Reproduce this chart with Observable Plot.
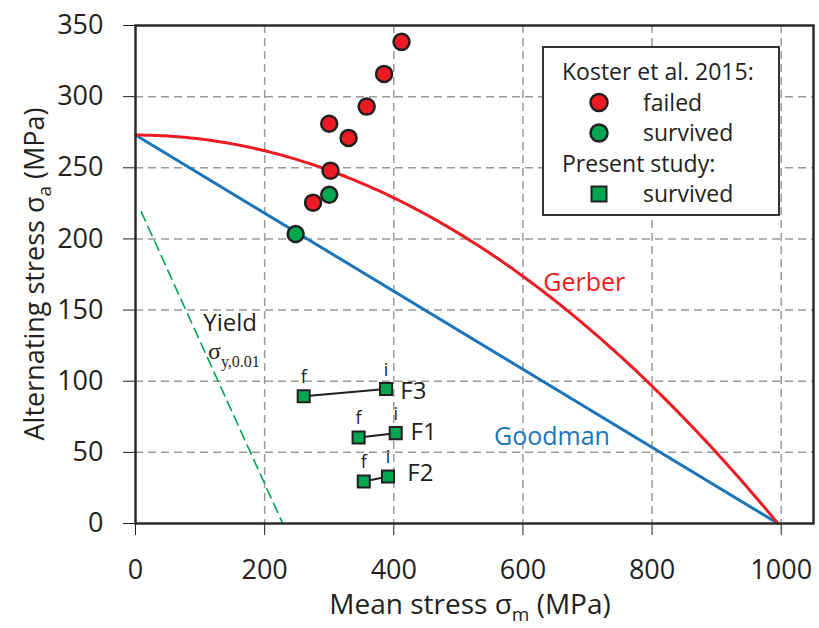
<!DOCTYPE html>
<html>
<head>
<meta charset="utf-8">
<script src="https://cdn.jsdelivr.net/npm/d3@7"></script>
<script src="https://cdn.jsdelivr.net/npm/@observablehq/plot@0.6"></script>
<style>
  body { margin: 0; background: #fff; }
  #chart svg { display: block; }
</style>
</head>
<body>
<div id="chart"></div>
<script>
// Koster et al. 2015 specimens (mean stress, alternating stress in MPa)
const kosterFailedMean = [412, 385, 358, 300, 330, 302, 275];
const kosterFailedAlt  = [338.5, 316, 293, 281, 271, 248, 225.5];
const kosterSurvivedMean = [300, 248];
const kosterSurvivedAlt  = [231, 203.5];

// Present study: initial (i) and final (f) state of each specimen
const specimenNames = ["F3", "F1", "F2"];
const initialMean = [388, 403, 391];
const initialAlt  = [94.5, 63.5, 33];
const finalMean   = [260.5, 345.5, 353.5];
const finalAlt    = [89.5, 60.5, 29.5];
const nameMean    = [410, 426, 421];
const nameAlt     = [92.8, 64, 35];

// Material constants (MPa)
const enduranceLimit = 273;
const ultimateStrength = 995;
const yieldStrength = 228;
const yieldLineStart = 9;

const xTicks = [0, 200, 400, 600, 800, 1000];
const yTicks = [0, 50, 100, 150, 200, 250, 300, 350];

const RED = "#ED1C24", GREEN = "#00A650", BLUE = "#1B75BC", INK = "#231F20";
const FONT = "'Open Sans', 'Noto Sans', sans-serif";

// Tables built from the arrays above
const failed = kosterFailedMean.map((m, i) => ({m, a: kosterFailedAlt[i]}));
const survived = kosterSurvivedMean.map((m, i) => ({m, a: kosterSurvivedAlt[i]}));
const specimens = specimenNames.map((name, i) => ({
  name, im: initialMean[i], ia: initialAlt[i], fm: finalMean[i], fa: finalAlt[i],
  nm: nameMean[i], na: nameAlt[i]
}));
const squares = specimens.flatMap(d => [
  {m: d.fm, a: d.fa, tag: "f"},
  {m: d.im, a: d.ia, tag: "i"}
]);

// Mean-stress correction criteria
const gerber = d3.range(0, ultimateStrength, 5).concat([ultimateStrength])
  .map(m => ({m, a: enduranceLimit * (1 - (m / ultimateStrength) ** 2)}));
const goodman = [0, ultimateStrength]
  .map(m => ({m, a: enduranceLimit * (1 - m / ultimateStrength)}));
const yieldLine = [yieldLineStart, yieldStrength]
  .map(m => ({m, a: yieldStrength - m}));

const chart = Plot.plot({
  width: 819,
  height: 628,
  marginLeft: 135,
  marginRight: 6,
  marginTop: 25,
  marginBottom: 105,
  style: {fontFamily: FONT, color: INK, background: "#fff"},
  x: {domain: [0, 1050]},
  y: {domain: [0, 350]},
  marks: [
    Plot.ruleX(xTicks.slice(1), {stroke: "#9a9a9a", strokeWidth: 1.5, strokeDasharray: "8,5"}),
    Plot.ruleY(yTicks.slice(1, -1), {stroke: "#9a9a9a", strokeWidth: 1.5, strokeDasharray: "8,5"}),
    Plot.line(yieldLine, {x: "m", y: "a", stroke: GREEN, strokeWidth: 1.6, strokeDasharray: "10,6"}),
    Plot.line(goodman, {x: "m", y: "a", stroke: BLUE, strokeWidth: 3}),
    Plot.line(gerber, {x: "m", y: "a", stroke: RED, strokeWidth: 3}),
    Plot.link(specimens, {x1: "fm", y1: "fa", x2: "im", y2: "ia", stroke: INK, strokeWidth: 2}),
    Plot.dot(squares, {x: "m", y: "a", symbol: "square", r: 6.8, fill: GREEN, stroke: INK, strokeWidth: 2}),
    Plot.text(squares, {x: "m", y: "a", text: "tag", dy: -19, fontSize: 18, fill: INK}),
    Plot.text(specimens, {x: "nm", y: "na", text: "name", textAnchor: "start", fontSize: 24, fill: INK}),
    Plot.dot(failed, {x: "m", y: "a", r: 8, fill: RED, stroke: INK, strokeWidth: 2.5}),
    Plot.dot(survived, {x: "m", y: "a", r: 8, fill: GREEN, stroke: INK, strokeWidth: 2.5}),
    Plot.text(["Gerber"], {x: 695, y: 169, text: d => d, fontSize: 25, fill: RED}),
    Plot.text(["Goodman"], {x: 645, y: 61, text: d => d, fontSize: 25, fill: BLUE}),
    Plot.text(["Yield"], {x: 105, y: 141, text: d => d, textAnchor: "start", fontSize: 24, fill: INK}),
    Plot.axisX({ticks: xTicks, tickFormat: d => String(d), tickSize: 12, tickPadding: 24, fontSize: 27, label: null, stroke: INK}),
    Plot.axisY({ticks: yTicks, tickFormat: d => String(d), tickSize: 12, tickPadding: 20, fontSize: 27, label: null, stroke: INK}),
    Plot.frame({stroke: "#2b2b2b", strokeWidth: 2.5})
  ]
});

const svg = d3.select(chart);
const sx = chart.scale("x"), sy = chart.scale("y");

// Yield strength symbol sigma_{y,0.01}
const sig = svg.append("text")
  .attr("x", sx.apply(113)).attr("y", sy.apply(115))
  .attr("text-anchor", "start")
  .attr("font-family", "'Liberation Serif', 'DejaVu Serif', serif")
  .attr("font-size", 24).attr("fill", INK);
sig.append("tspan").text("σ");
sig.append("tspan").attr("dy", 8).attr("font-size", 16).text("y,0.01");

// Axis titles with subscripts
const xt = svg.append("text")
  .attr("x", (135 + 813) / 2 - 4).attr("y", 614)
  .attr("text-anchor", "middle").attr("font-family", FONT)
  .attr("font-size", 28).attr("fill", INK);
xt.append("tspan").text("Mean stress σ");
xt.append("tspan").attr("dy", 7).attr("font-size", 19).text("m");
xt.append("tspan").attr("dy", -7).text(" (MPa)");

const yt = svg.append("text")
  .attr("transform", `translate(44,${(25 + 523) / 2}) rotate(-90)`)
  .attr("text-anchor", "middle").attr("font-family", FONT)
  .attr("font-size", 27).attr("fill", INK);
yt.append("tspan").text("Alternating stress σ");
yt.append("tspan").attr("dy", 7).attr("font-size", 19).text("a");
yt.append("tspan").attr("dy", -7).text(" (MPa)");

// Legend box
const legendRows = [
  {label: "Koster et al. 2015:", symbol: null},
  {label: "failed", symbol: "circle", fill: RED},
  {label: "survived", symbol: "circle", fill: GREEN},
  {label: "Present study:", symbol: null},
  {label: "survived", symbol: "square", fill: GREEN}
];
const lg = svg.append("g").attr("font-family", FONT).attr("font-size", 23)
  .attr("fill", INK).attr("text-anchor", "start");
lg.append("rect").attr("x", 543).attr("y", 47).attr("width", 236).attr("height", 168)
  .attr("fill", "#fff").attr("stroke", "#333").attr("stroke-width", 2);
legendRows.forEach((r, i) => {
  const cy = 72 + i * 30.5;
  if (r.symbol === "circle") {
    lg.append("circle").attr("cx", 599).attr("cy", cy).attr("r", 8.5)
      .attr("fill", r.fill).attr("stroke", INK).attr("stroke-width", 2.5);
  } else if (r.symbol === "square") {
    lg.append("rect").attr("x", 599 - 7.5).attr("y", cy - 7.5).attr("width", 15).attr("height", 15)
      .attr("fill", r.fill).attr("stroke", INK).attr("stroke-width", 2);
  }
  lg.append("text").attr("x", r.symbol ? 643 : 562).attr("y", cy).attr("dy", "0.35em").text(r.label);
});

document.getElementById("chart").appendChild(chart);
</script>
</body>
</html>
